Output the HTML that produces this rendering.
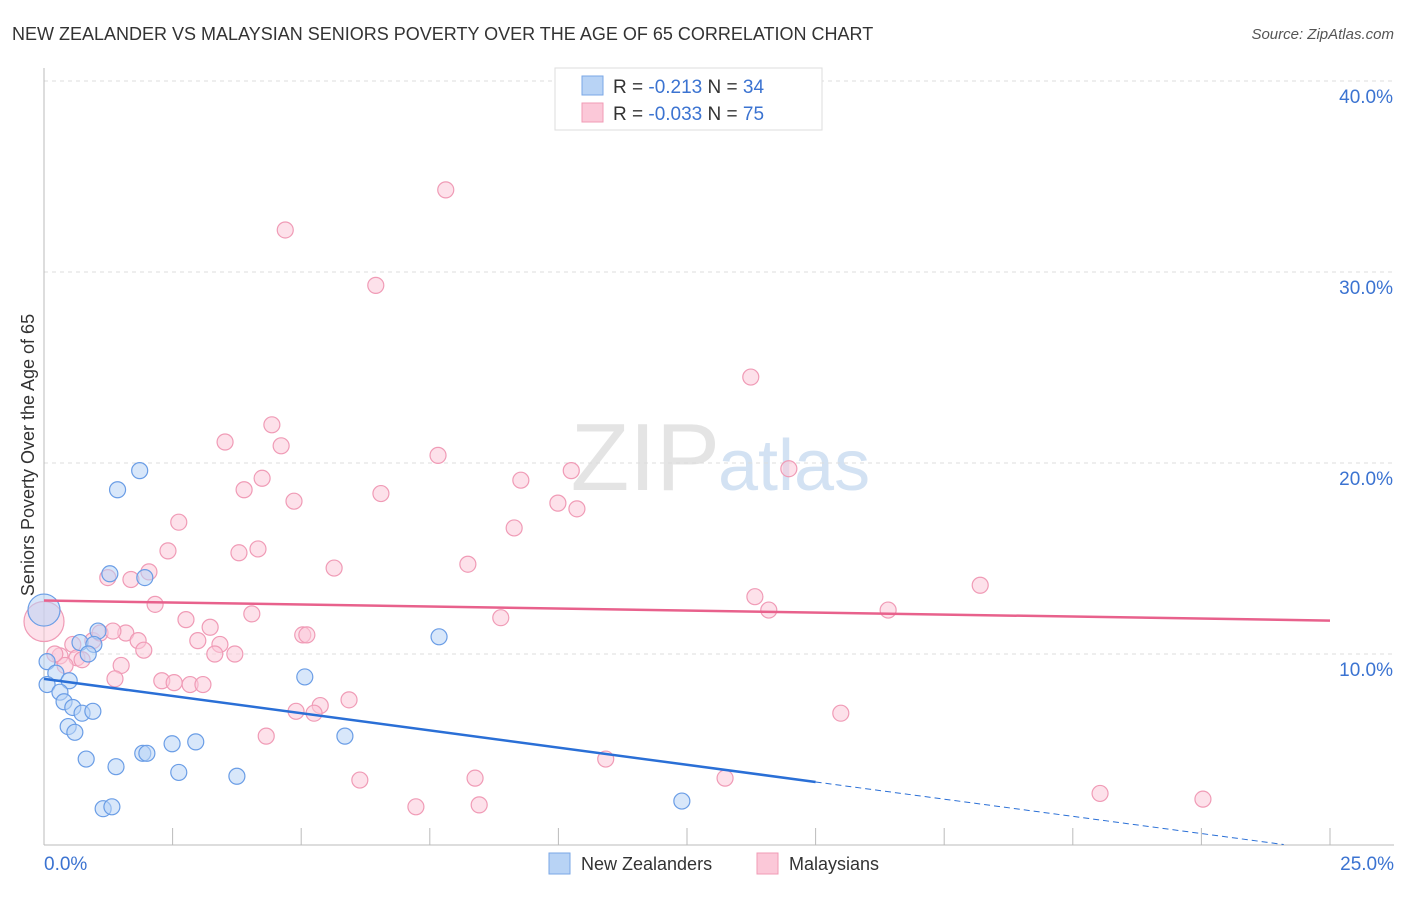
<!DOCTYPE html>
<html><head><meta charset="utf-8"><style>
body{margin:0;background:#fff;font-family:"Liberation Sans",sans-serif}
svg text{font-family:"Liberation Sans",sans-serif}
</style></head><body>
<svg width="1406" height="892" id="c">
<text x="12" y="40" font-size="18" fill="#333">NEW ZEALANDER VS MALAYSIAN SENIORS POVERTY OVER THE AGE OF 65 CORRELATION CHART</text>
<text x="1394" y="39" font-size="15" fill="#555" font-style="italic" text-anchor="end">Source: ZipAtlas.com</text>
<text x="720" y="490" font-size="96" fill="#e4e4e4" font-family="Liberation Serif" text-anchor="end">ZIP</text>
<text x="718" y="490" font-size="72" fill="#d3e2f3">atlas</text>
<text x="34" y="455" font-size="18" fill="#333" text-anchor="middle" transform="rotate(-90 34 455)">Seniors Poverty Over the Age of 65</text>
<g id="grid"></g><g id="pts"></g><g id="lines"></g>
<g>
<rect x="555" y="68" width="267" height="62" fill="#fff" stroke="#ddd"/>
<rect x="582" y="76" width="21" height="19" fill="#b8d3f5" stroke="#7aa7e6"/>
<rect x="582" y="103" width="21" height="19" fill="#fbc8d8" stroke="#f09bb6"/>
<text x="613" y="93" font-size="19" fill="#333">R = <tspan fill="#3b73d1"> -0.213</tspan>   N = <tspan fill="#3b73d1">34</tspan></text>
<text x="613" y="120" font-size="19" fill="#333">R = <tspan fill="#3b73d1">-0.033</tspan>   N = <tspan fill="#3b73d1">75</tspan></text>
</g>
<g>
<rect x="549" y="853" width="21" height="21" fill="#b8d3f5" stroke="#7aa7e6"/>
<text x="581" y="870" font-size="18" fill="#333">New Zealanders</text>
<rect x="757" y="853" width="21" height="21" fill="#fbc8d8" stroke="#f09bb6"/>
<text x="789" y="870" font-size="18" fill="#333">Malaysians</text>
</g>
</svg>
<script>
const yTicks=[10,20,30,40];
const yTickLabels=["10.0%","20.0%","30.0%","40.0%"];
const xTickLabels=["0.0%","25.0%"];
const nzX=[1.86,1.43,1.28,1.96,1.05,0.70,0.97,0.86,0.06,0.23,0.06,0.49,0.31,0.39,0.56,0.74,0.95,0.47,0.60,0.82,1.40,1.92,2.00,2.62,2.49,2.95,3.75,1.15,1.32,5.07,5.85,7.68,12.4,0.0];
const nzY=[19.6,18.6,14.2,14.0,11.2,10.6,10.5,10.0,9.6,9.0,8.4,8.6,8.0,7.5,7.2,6.9,7.0,6.2,5.9,4.5,4.1,4.8,4.8,3.8,5.3,5.4,3.6,1.9,2.0,8.8,5.7,10.9,2.3,12.3];
const myX=[7.81,4.69,6.45,13.74,4.43,3.52,4.61,7.66,4.24,10.25,14.48,3.89,6.55,9.27,4.86,9.99,10.36,2.62,9.14,2.41,3.79,4.16,8.24,5.64,2.04,1.69,1.24,18.2,13.82,2.16,4.04,14.09,16.41,2.76,3.23,8.88,1.59,1.83,5.03,5.11,2.99,3.42,1.94,0.95,1.09,1.34,0.56,0.31,0.64,0.74,0.41,3.32,3.71,1.50,1.38,2.29,2.53,2.84,3.09,5.93,5.37,4.9,5.25,4.32,15.49,10.92,6.14,8.38,13.24,7.23,8.46,20.53,22.53,0.0,0.21];
const myY=[34.3,32.2,29.3,24.5,22.0,21.1,20.9,20.4,19.2,19.6,19.7,18.6,18.4,19.1,18.0,17.9,17.6,16.9,16.6,15.4,15.3,15.5,14.7,14.5,14.3,13.9,14.0,13.6,13.0,12.6,12.1,12.3,12.3,11.8,11.4,11.9,11.1,10.7,11.0,11.0,10.7,10.5,10.2,10.7,11.1,11.2,10.5,9.9,9.8,9.7,9.4,10.0,10.0,9.4,8.7,8.6,8.5,8.4,8.4,7.6,7.3,7.0,6.9,5.7,6.9,4.5,3.4,3.5,3.5,2.0,2.1,2.7,2.4,11.7,10.0];
const nzTrend=[8.7,3.3], myTrend=[12.8,11.75];
const X=v=>44+v*51.44, Y=v=>845-v*19.1;
const NS="http://www.w3.org/2000/svg";
function mk(p,t,a){const e=document.createElementNS(NS,t);for(const k in a)e.setAttribute(k,a[k]);p.appendChild(e);return e;}
const g=document.getElementById('grid');
yTicks.forEach((t,i)=>{
 const l=mk(g,'line',{x1:44,x2:1394,y1:Y(t),y2:Y(t),stroke:'#ddd','stroke-dasharray':'4,4'});
 
 
 const tx=mk(g,'text',{x:1393,y:Y(t)+22,'font-size':19,fill:'#3b73d1','text-anchor':'end'});tx.textContent=yTickLabels[i];
 
 
});
const ax=mk(g,'line',{x1:44,x2:44,y1:68,y2:845,stroke:'#bbb'});


const bx=mk(g,'line',{x1:44,x2:1394,y1:845,y2:845,stroke:'#bbb'});


for(let i=0;i<=10;i++){const t=mk(g,'line',{x1:X(i*2.5),x2:X(i*2.5),y1:828,y2:845,stroke:'#bbb'});
 
 }
[[0,'start',44],[25,'end',1394]].forEach((d,i)=>{const t=mk(g,'text',{x:d[2],y:870,'font-size':19,fill:'#3b73d1','text-anchor':d[1]});t.textContent=xTickLabels[i];
 
 });
const p=document.getElementById('pts');
function pts(xs,ys,fill,stroke,name){xs.forEach((x,i)=>{const big=(x===0);
 const c=mk(p,'circle',{cx:X(x),cy:Y(ys[i]),r:big?(name==='nz-point'?16:20):8,fill:fill,'fill-opacity':0.55,stroke:stroke,'stroke-width':1.2});
 
 });}
pts(myX,myY,'#fbc8d8','#f09bb6','my-point');
pts(nzX,nzY,'#b8d3f5','#6a9de6','nz-point');
const L=document.getElementById('lines');
const a=mk(L,'line',{x1:X(0),y1:Y(myTrend[0]),x2:X(25),y2:Y(myTrend[1]),stroke:'#e8618c','stroke-width':2.5});


const sl=(nzTrend[1]-nzTrend[0])/15;
const b=mk(L,'line',{x1:X(0),y1:Y(nzTrend[0]),x2:X(15),y2:Y(nzTrend[1]),stroke:'#2a6fd6','stroke-width':2.5});


const d=mk(L,'line',{x1:X(15),y1:Y(nzTrend[1]),x2:X(24.1),y2:Y(nzTrend[0]+sl*24.1),stroke:'#2a6fd6','stroke-width':1,'stroke-dasharray':'6,4'});


</script>
</body></html>
